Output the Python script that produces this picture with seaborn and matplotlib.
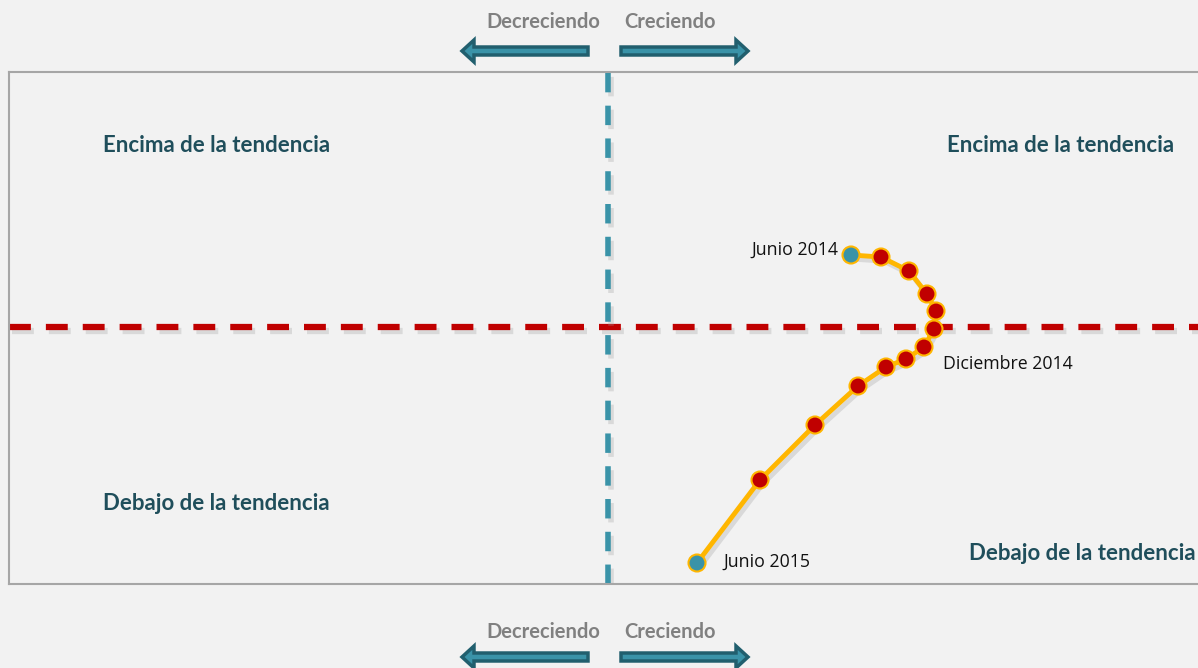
import matplotlib
matplotlib.use("Agg")
import matplotlib.pyplot as plt
import matplotlib.patheffects as pe
from matplotlib.patches import FancyArrow
import seaborn as sns
import pandas as pd

# ---- data ----
months = ["Junio 2014", "Jul 2014", "Ago 2014", "Sep 2014", "Oct 2014", "Nov 2014",
          "Diciembre 2014", "Ene 2015", "Feb 2015", "Mar 2015", "Abr 2015", "May 2015", "Junio 2015"]
growth = [2.43, 2.73, 3.01, 3.19, 3.28, 3.26, 3.16, 2.98, 2.78, 2.50, 2.07, 1.52, 0.89]
trend_gap = [0.72, 0.70, 0.56, 0.33, 0.16, -0.02, -0.20, -0.32, -0.40, -0.59, -0.98, -1.53, -2.36]
point_kind = ["extremo"] + ["medio"] * 11 + ["extremo"]
labelled = ["Junio 2014", "Diciembre 2014", "Junio 2015"]
quadrant_labels = ["Encima de la tendencia", "Encima de la tendencia",
                   "Debajo de la tendencia", "Debajo de la tendencia"]
direction_labels = ["Decreciendo", "Creciendo"]

df = pd.DataFrame({"mes": months, "x": growth, "y": trend_gap, "tipo": point_kind})

sns.set_theme(style="white")
plt.rcParams["font.family"] = ["Lato", "DejaVu Sans"]

BG = "#f2f2f2"
W, H = 1198, 668
fig = plt.figure(figsize=(W / 100, H / 100), dpi=100, facecolor=BG)
ax = fig.add_axes([9 / W, (H - 584) / H, (W - 9) / W, (584 - 72) / H])
ax.set_facecolor(BG)
ax.set_xlim(-5.99, 5.90)
ax.set_ylim(-2.57, 2.55)
ax.set_xticks([])
ax.set_yticks([])
for s in ["left", "top", "bottom"]:
    ax.spines[s].set_color("#a6a6a6")
    ax.spines[s].set_linewidth(1.5)
ax.spines["right"].set_visible(False)

shadow = [pe.SimpleLineShadow(offset=(2, -3), shadow_color="#a0a0a0", alpha=0.3), pe.Normal()]

ax.axhline(0, color="#c00000", lw=4.5, ls=(0, (3.5, 2.4)), path_effects=shadow, zorder=2)
ax.axvline(0, color="#3a93a8", lw=4, ls=(0, (3.5, 2.4)), path_effects=shadow, zorder=2)

sns.lineplot(data=df, x="x", y="y", sort=False, color="#ffb600", lw=3.5, ax=ax,
             zorder=3, path_effects=shadow)
sns.scatterplot(data=df, x="x", y="y", hue="tipo", palette={"extremo": "#3a93a8", "medio": "#c00000"},
                s=150, edgecolor="#ffb600", linewidth=1.5, ax=ax, zorder=4, legend=False)
ax.set_xlabel("")
ax.set_ylabel("")

# point labels
lkw = dict(textcoords="offset points", va="center", fontsize=12.8, color="#111111",
           family=["Open Sans", "DejaVu Sans"])
for _, r in df.iterrows():
    if r["mes"] == labelled[0]:
        ax.annotate(r["mes"], (r["x"], r["y"]), xytext=(-9, 3.5), ha="right", **lkw)
    elif r["mes"] == labelled[1]:
        ax.annotate(r["mes"], (r["x"], r["y"]), xytext=(14, -12.5), ha="left", **lkw)
    elif r["mes"] == labelled[2]:
        ax.annotate(r["mes"], (r["x"], r["y"]), xytext=(19, 1.2), ha="left", **lkw)

# quadrant labels (figure pixel coordinates)
QC = "#1f4e5b"
def fx(px):
    return px / W
def fy(py):
    return 1 - py / H

qkw = dict(fontsize=16, fontweight="bold", color=QC, va="center")
fig.text(fx(103), fy(146), quadrant_labels[0], ha="left", **qkw)
fig.text(fx(1174), fy(146), quadrant_labels[1], ha="right", **qkw)
fig.text(fx(103), fy(504), quadrant_labels[2], ha="left", **qkw)
fig.text(fx(1196), fy(554), quadrant_labels[3], ha="right", **qkw)

# direction labels & arrows
dkw = dict(fontsize=14.5, fontweight="bold", color="#808080", va="center")
for ty, ay in [(22, 51), (632, 657)]:
    fig.text(fx(600), fy(ty), direction_labels[0], ha="right", **dkw)
    fig.text(fx(624), fy(ty), direction_labels[1], ha="left", **dkw)
    for x0, x1 in [(588, 462), (621, 748)]:
        arr = FancyArrow(fx(x0), fy(ay), fx(x1) - fx(x0), 0, width=8 / H,
                         head_width=22 / H, head_length=12 / W, length_includes_head=True,
                         transform=fig.transFigure, facecolor="#3a93a8", edgecolor="#215f6e",
                         linewidth=2.5)
        fig.patches.append(arr)

fig.savefig("out.png", dpi=100, facecolor=BG)
